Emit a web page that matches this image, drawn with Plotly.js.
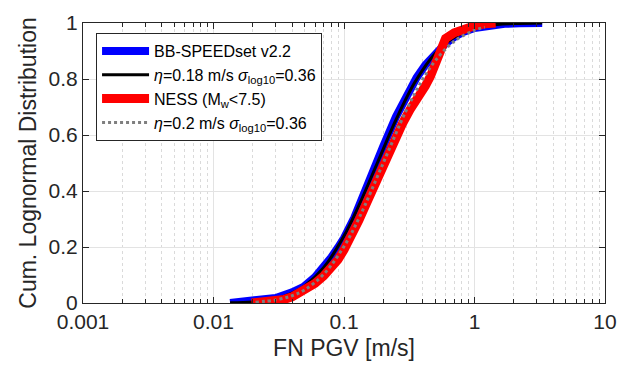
<!DOCTYPE html>
<html>
<head>
<meta charset="utf-8">
<script src="https://cdn.plot.ly/plotly-3.0.1.min.js"></script>
<style>html,body{margin:0;padding:0;background:#fff;}#chart{width:618px;height:373px;}</style>
</head>
<body>
<div id="chart"></div>
<script>
const bbX = [0.0134,0.015,0.02,0.025,0.03,0.04,0.049,0.06,0.07,0.08,0.09,0.1,0.12,0.133,0.16,0.18,0.2,0.25,0.3,0.36,0.42,0.5,0.6,0.7,0.8,1.0,1.3,1.7,2.2,2.8,3.3];
const bbY = [0,0.002,0.005,0.01,0.018,0.038,0.058,0.093,0.128,0.163,0.198,0.232,0.305,0.36,0.445,0.505,0.56,0.665,0.74,0.805,0.85,0.893,0.927,0.95,0.966,0.982,0.992,0.997,0.999,1.0,1.0];
// lognormal fit eta=0.18
const fitBX = [0.0134,0.02,0.03,0.04,0.05,0.07,0.1,0.13,0.18,0.25,0.35,0.5,0.7,1.0,1.5,2.0,3.3];
const fitBY = [0.001,0.004,0.015,0.035,0.061,0.127,0.239,0.348,0.5,0.654,0.789,0.891,0.949,0.981,0.995,0.998,1.0];
const nessX = [0.0196,0.025,0.03,0.035,0.04,0.049,0.06,0.07,0.083,0.09,0.1,0.11,0.12,0.13,0.15,0.17,0.2,0.23,0.25,0.28,0.32,0.38,0.42,0.46,0.5,0.55,0.6,0.7,0.85,1.0,1.2,1.45];
const nessY = [0,0.003,0.007,0.013,0.022,0.045,0.07,0.097,0.13,0.155,0.19,0.225,0.26,0.295,0.36,0.42,0.49,0.55,0.595,0.64,0.69,0.74,0.775,0.81,0.86,0.915,0.945,0.965,0.98,0.99,0.997,1.0];
// lognormal fit eta=0.2
const fitNX = [0.021,0.03,0.04,0.05,0.07,0.1,0.13,0.2,0.3,0.4,0.5,0.7,1.0,1.2];
const fitNY = [0.003,0.011,0.026,0.047,0.103,0.202,0.302,0.5,0.688,0.798,0.865,0.935,0.974,0.985];

const xTickVals = [0.001,0.01,0.1,1,10];
const xTickText = ['0.001','0.01','0.1','1','10'];
const names = ['BB-SPEEDset v2.2',
  '<i>η</i>=0.18 m/s <i>σ</i><sub>log10</sub>=0.36',
  'NESS (M<sub>w</sub><7.5)',
  '<i>η</i>=0.2 m/s <i>σ</i><sub>log10</sub>=0.36'];

const traces = [
  {x: bbX, y: bbY, mode:'lines', name:names[0], line:{color:'#0000ff', width:8}},
  {x: fitBX, y: fitBY, mode:'lines', name:names[1], line:{color:'#000000', width:3, shape:'spline'}},
  {x: nessX, y: nessY, mode:'lines', name:names[2], line:{color:'#ff0000', width:9}},
  {x: fitNX, y: fitNY, mode:'lines', name:names[3], line:{color:'#7f7f7f', width:3, dash:'dot', shape:'spline'}}
];

const axCol = '#262626';
const layout = {
  width:618, height:373,
  margin:{l:83, r:13, t:23, b:70},
  paper_bgcolor:'#fff', plot_bgcolor:'#fff',
  font:{family:'"Liberation Sans", Arial, sans-serif', color:axCol, size:21},
  showlegend:true,
  legend:{x:0.025, y:0.964, xanchor:'left', yanchor:'top', bgcolor:'#fff', bordercolor:axCol, borderwidth:1,
          font:{size:16, color:'#000'}, tracegroupgap:0, itemwidth:47},
  xaxis:{type:'log', range:[-3,1], tickvals:xTickVals, ticktext:xTickText,
         ticks:'inside', ticklen:6, tickcolor:axCol, showline:true, linecolor:axCol, linewidth:1, mirror:'allticks',
         showgrid:true, gridcolor:'#e3e3e3', gridwidth:1, zeroline:false,
         minor:{dtick:'D1', ticks:'inside', ticklen:4, tickcolor:axCol, showgrid:true, gridcolor:'#dadada', griddash:'dot', gridwidth:1},
         tickfont:{size:21}, title:{text:'FN PGV [m/s]', font:{size:23}, standoff:7}},
  yaxis:{range:[0,1], dtick:0.2, ticks:'inside', ticklen:6, tickcolor:axCol, showline:true, linecolor:axCol, linewidth:1, mirror:'allticks',
         showgrid:true, gridcolor:'#e3e3e3', gridwidth:1, zeroline:false,
         tickfont:{size:21}, title:{text:'Cum. Lognormal Distribution', font:{size:23}, standoff:5}}
};
Plotly.newPlot('chart', traces, layout, {displayModeBar:false, staticPlot:true});
</script>
</body>
</html>
